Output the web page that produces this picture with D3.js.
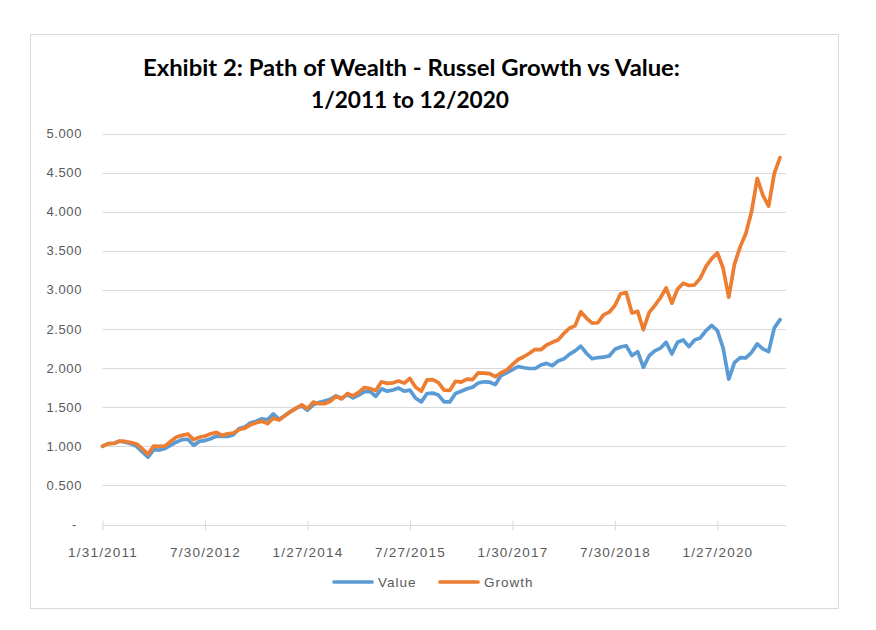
<!DOCTYPE html>
<html>
<head>
<meta charset="utf-8">
<script src="https://cdn.jsdelivr.net/npm/d3@7"></script>
<style>
	body { margin: 0; background: #fff; }
	svg { display: block; }
	text { font-family: "Liberation Sans", Arial, sans-serif; fill: #595959; }
	.titulo { font-family: Lato, "Open Sans", sans-serif; font-weight: bold; fill: #000; font-size: 23px; }
</style>
</head>
<body>
<div id="grafica"></div>
<script>
// etiquetas del eje x (cada 18 meses)
var tickLabels = ['1/31/2011', '7/30/2012', '1/27/2014', '7/27/2015', '1/30/2017', '7/30/2018', '1/27/2020'];
var yTicks = [0, 0.5, 1, 1.5, 2, 2.5, 3, 3.5, 4, 4.5, 5];
var series = ['Value', 'Growth'];

// valor mensual acumulado, ene 2011 - dic 2020
var value = [
	1.000, 1.035, 1.039, 1.065, 1.053, 1.034, 0.998, 0.928, 0.860, 0.958, 0.953, 0.972,
	1.015, 1.056, 1.085, 1.090, 1.012, 1.063, 1.073, 1.097, 1.130, 1.128, 1.126, 1.148,
	1.228, 1.246, 1.300, 1.320, 1.352, 1.340, 1.415, 1.345, 1.390, 1.445, 1.490, 1.515,
	1.462, 1.530, 1.560, 1.580, 1.600, 1.645, 1.615, 1.660, 1.620, 1.655, 1.700, 1.700,
	1.640, 1.735, 1.705, 1.720, 1.745, 1.705, 1.718, 1.615, 1.568, 1.675, 1.680, 1.655,
	1.568, 1.568, 1.675, 1.705, 1.735, 1.755, 1.810, 1.825, 1.820, 1.790, 1.905, 1.940,
	1.980, 2.020, 2.005, 1.995, 1.995, 2.040, 2.060, 2.030, 2.090, 2.115, 2.175, 2.220,
	2.280, 2.190, 2.120, 2.135, 2.140, 2.155, 2.240, 2.270, 2.285, 2.160, 2.210, 2.010,
	2.155, 2.220, 2.255, 2.330, 2.180, 2.330, 2.360, 2.275, 2.360, 2.385, 2.480, 2.545,
	2.480, 2.260, 1.860, 2.070, 2.135, 2.130, 2.200, 2.310, 2.245, 2.210, 2.515, 2.620
];

var growth = [
	1.000, 1.034, 1.036, 1.068, 1.062, 1.048, 1.030, 0.966, 0.900, 1.003, 1.000, 1.006,
	1.065, 1.120, 1.140, 1.158, 1.085, 1.115, 1.130, 1.160, 1.178, 1.140, 1.160, 1.170,
	1.215, 1.232, 1.275, 1.300, 1.320, 1.290, 1.360, 1.335, 1.390, 1.440, 1.485, 1.530,
	1.480, 1.565, 1.545, 1.545, 1.575, 1.640, 1.605, 1.675, 1.645, 1.690, 1.752, 1.738,
	1.712, 1.825, 1.805, 1.812, 1.835, 1.808, 1.868, 1.755, 1.705, 1.850, 1.852, 1.815,
	1.718, 1.715, 1.832, 1.820, 1.858, 1.852, 1.940, 1.935, 1.930, 1.890, 1.940, 1.975,
	2.045, 2.110, 2.145, 2.190, 2.240, 2.235, 2.295, 2.330, 2.360, 2.440, 2.510, 2.540,
	2.720, 2.640, 2.575, 2.580, 2.680, 2.715, 2.800, 2.950, 2.965, 2.705, 2.725, 2.490,
	2.710, 2.800, 2.900, 3.025, 2.830, 3.010, 3.085, 3.056, 3.064, 3.150, 3.300, 3.400,
	3.474, 3.280, 2.906, 3.330, 3.550, 3.720, 4.000, 4.425, 4.210, 4.070, 4.490, 4.690
];

var colores = { Value: '#5b9bd5', Growth: '#ed7d31' };

var W = 876, H = 630;
var m = { t: 133.5, r: 90.5, b: 105.5, l: 102.5 };

var svg = d3.select('#grafica').append('svg')
	.attr('width', W)
	.attr('height', H);

svg.append('rect')
	.attr('x', 30.5).attr('y', 34.5)
	.attr('width', 808).attr('height', 574)
	.attr('fill', '#fff')
	.attr('stroke', '#d9d9d9');

// titulo
svg.append('text').attr('class', 'titulo')
	.attr('x', 411.5).attr('y', 76).attr('text-anchor', 'middle')
	.attr('textLength', 537).attr('lengthAdjust', 'spacingAndGlyphs')
	.text('Exhibit 2: Path of Wealth - Russel Growth vs Value:');
svg.append('text').attr('class', 'titulo')
	.attr('x', 410).attr('y', 108).attr('text-anchor', 'middle')
	.attr('textLength', 198).attr('lengthAdjust', 'spacingAndGlyphs')
	.text('1/2011 to 12/2020');

// escalas: un punto por mes, el eje llega hasta ene 2021
var x = d3.scaleLinear().domain([0, 120]).range([m.l, W - m.r + 0.2]);
var y = d3.scaleLinear().domain([0, 5]).range([H - m.b, m.t]);

var fmt = d3.format('.3f');

// lineas de cuadricula
svg.append('g')
	.selectAll('line').data(yTicks.slice(1))
	.enter().append('line')
	.attr('x1', x(0)).attr('x2', x(120))
	.attr('y1', function(d) { return Math.round(y(d)) + 0.5; })
	.attr('y2', function(d) { return Math.round(y(d)) + 0.5; })
	.attr('stroke', '#d9d9d9');

// eje y (solo etiquetas)
svg.append('g')
	.selectAll('text').data(yTicks)
	.enter().append('text')
	.attr('x', function(d) { return d === 0 ? 77 : 82; })
	.attr('y', function(d) { return y(d) + 4.5; })
	.attr('text-anchor', 'end')
	.style('font-size', '13px')
	.style('letter-spacing', '0.6px')
	.text(function(d) { return d === 0 ? '-' : fmt(d); });

// eje x
var xAxis = d3.axisBottom(x)
	.tickValues(tickLabels.map(function(d, i) { return i * 18; }))
	.tickSize(5)
	.tickFormat(function(d, i) { return tickLabels[i]; });

var gx = svg.append('g')
	.attr('transform', 'translate(0,' + (Math.round(y(0)) + 0.5) + ')')
	.call(xAxis);
gx.select('.domain').attr('stroke', '#d9d9d9').attr('d', 'M' + x(0) + ',0H' + x(120));
gx.selectAll('.tick line').attr('stroke', '#d9d9d9').attr('y1', -5).attr('y2', 5);
gx.selectAll('.tick text')
	.attr('y', 22)
	.style('font-size', '13.5px')
	.style('letter-spacing', '1.2px')
	.style('fill', '#595959')
	.attr('font-family', null);

// lineas
var linea = d3.line()
	.x(function(d, i) { return x(i); })
	.y(function(d) { return y(d); });

var datos = { Value: value, Growth: growth };

svg.append('g')
	.selectAll('path').data(series)
	.enter().append('path')
	.attr('d', function(s) { return linea(datos[s]); })
	.attr('fill', 'none')
	.attr('stroke', function(s) { return colores[s]; })
	.attr('stroke-width', 3.7)
	.attr('stroke-linejoin', 'round')
	.attr('stroke-linecap', 'round');

// leyenda
var ley = svg.append('g').selectAll('g').data(series)
	.enter().append('g')
	.attr('transform', function(s, i) { return 'translate(' + (334 + i * 106) + ',582)'; });
ley.append('line')
	.attr('x1', 0).attr('x2', 38)
	.attr('stroke', function(s) { return colores[s]; })
	.attr('stroke-width', 3.7)
	.attr('stroke-linecap', 'round');
ley.append('text')
	.attr('x', 44).attr('y', 4.5)
	.style('font-size', '13.5px')
	.style('letter-spacing', '1px')
	.text(function(s) { return s; });
</script>
</body>
</html>
